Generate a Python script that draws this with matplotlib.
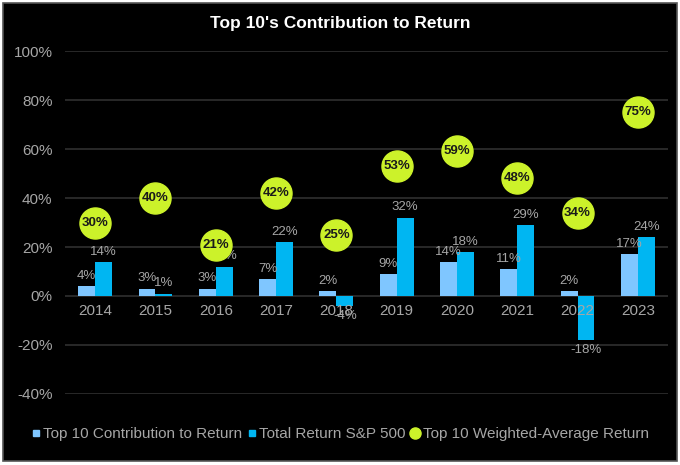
import numpy as np
import matplotlib.pyplot as plt
from matplotlib.patches import Rectangle
from matplotlib.lines import Line2D

plt.rcParams['font.family'] = ['Liberation Sans', 'DejaVu Sans']

# values (percent)
years = ['2014', '2015', '2016', '2017', '2018', '2019', '2020', '2021', '2022', '2023']
contribution = [4, 3, 3, 7, 2, 9, 14, 11, 2, 17]
total_return = [14, 1, 12, 22, -4, 32, 18, 29, -18, 24]
weighted_avg = [30, 40, 21, 42, 25, 53, 59, 48, 34, 75]

light_blue = '#7fc6ff'
dark_blue = '#00b6f2'
lime = '#ccf22a'
grey_txt = '#a6a6a6'

fig = plt.figure(figsize=(6.8, 4.65), dpi=100, facecolor='white')
# black panel with thin grey border like the original screenshot
fig.patches.append(Rectangle((0.004, 0.008), 0.992, 0.986, transform=fig.transFigure,
                             facecolor='black', edgecolor='#555555', linewidth=1.2, zorder=-10))

ax = fig.add_axes([0.0956, 0.1527, 0.8868, 0.7376])
ax.set_facecolor('black')

x = np.arange(len(years))
w = 0.28
b1 = ax.bar(x - w / 2, contribution, w, color=light_blue, zorder=2)
b2 = ax.bar(x + w / 2, total_return, w, color=dark_blue, zorder=2)

# bar labels
for bars, vals in [(b1, contribution), (b2, total_return)]:
    for bar, v in zip(bars, vals):
        cx = bar.get_x() + bar.get_width() / 2
        if v >= 0:
            ax.annotate(f'{v}%', (cx, v), xytext=(0, 3), textcoords='offset points',
                        ha='center', va='bottom', color=grey_txt, fontsize=9.5, zorder=3)
        else:
            ax.annotate(f'{v}%', (cx, v), xytext=(0, -3), textcoords='offset points',
                        ha='center', va='top', color=grey_txt, fontsize=9.5, zorder=3)

# year labels sit just under the zero line
for xi, yr in zip(x, years):
    ax.annotate(yr, (xi, 0), xytext=(0, -6), textcoords='offset points',
                ha='center', va='top', color=grey_txt, fontsize=11, zorder=3)

# weighted-average bubbles
ax.scatter(x, weighted_avg, s=500, color=lime, zorder=4)
for xi, v in zip(x, weighted_avg):
    ax.text(xi, v, f'{v}%', ha='center', va='center', fontsize=9.5,
            fontweight='bold', color='#1a1a1a', zorder=5)

ax.set_xlim(-0.5, len(years) - 0.5)
ax.set_ylim(-40, 100)
ax.set_yticks(range(-40, 101, 20))
ax.set_yticklabels([f'{t}%' for t in range(-40, 101, 20)])
ax.set_xticks([])
ax.tick_params(axis='y', length=0, pad=9, colors=grey_txt, labelsize=11)
ax.yaxis.grid(True, color='#303030', linewidth=1.2, zorder=0)
ax.set_axisbelow(True)
for s in ax.spines.values():
    s.set_visible(False)

fig.text(0.5, 0.95, "Top 10's Contribution to Return", ha='center', va='center',
         color='white', fontsize=12.5, fontweight='bold')

handles = [
    Line2D([], [], marker='s', linestyle='none', color=light_blue, markersize=5),
    Line2D([], [], marker='s', linestyle='none', color=dark_blue, markersize=5),
    Line2D([], [], marker='o', linestyle='none', color=lime, markersize=8),
]
labels = ['Top 10 Contribution to Return', 'Total Return S&P 500', 'Top 10 Weighted-Average Return']
fig.legend(handles, labels, loc='center', bbox_to_anchor=(0.5, 0.066), ncol=3, frameon=False,
           fontsize=11, labelcolor=grey_txt, handlelength=0.6, handletextpad=0.2,
           columnspacing=0.3)

fig.savefig('out.png', dpi=100, facecolor='white')
